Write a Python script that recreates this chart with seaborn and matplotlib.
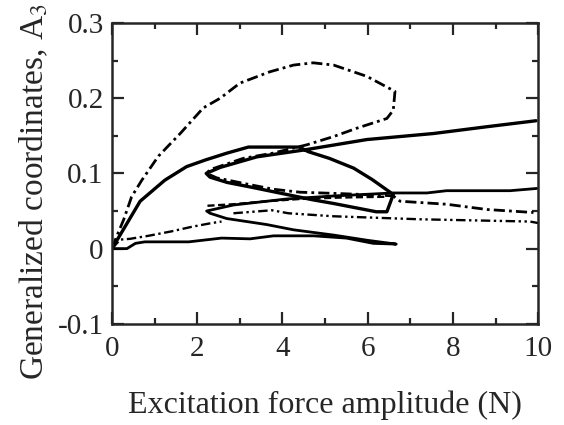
import numpy as np
import pandas as pd
import matplotlib
matplotlib.use("Agg")
import matplotlib.pyplot as plt
import seaborn as sns

# solid curve 1 (thick, upper)
x_s1 = [0, 0.66, 1.24, 1.75, 2.2, 2.7, 3.2, 3.8, 4.4, 4.6, 5.1, 5.67, 6.1, 6.6,
        6.45, 6.2, 5.2, 4.7, 4.1, 3.24, 2.7, 2.3, 2.21, 2.54, 3.4, 4.49, 5.98, 7.54, 8.79, 9.95]
y_s1 = [0, 0.063, 0.091, 0.109, 0.118, 0.127, 0.135, 0.135, 0.135, 0.129, 0.12, 0.107, 0.092, 0.072,
        0.049, 0.049, 0.06, 0.065, 0.072, 0.082, 0.088, 0.095, 0.1, 0.108, 0.122, 0.131, 0.145, 0.153, 0.162, 0.17]

# solid curve 2 (lower)
x_s2 = [0, 0.35, 0.55, 0.77, 1.8, 2.57, 3.24, 3.79, 4.73, 5.5, 6.13, 6.67,
        6.0, 5.2, 4.26, 3.63, 2.69, 2.3, 2.22, 2.85, 4.1, 5.2, 6.6, 7.39, 7.85, 9.34, 9.97]
y_s2 = [0, 0.0, 0.007, 0.009, 0.009, 0.014, 0.013, 0.017, 0.017, 0.014, 0.007, 0.006,
        0.011, 0.018, 0.025, 0.032, 0.04, 0.047, 0.05, 0.058, 0.066, 0.07, 0.074, 0.074, 0.077, 0.077, 0.08]

# dash-dot curve (big loop)
x_dd = [0, 0.1, 0.27, 0.46, 0.7, 1.09, 1.6, 2.14, 2.54, 3.0, 3.7, 4.26, 4.72, 5.2, 5.98, 6.64,
        6.6, 6.45, 5.74, 5.2, 4.57, 3.78, 3.08, 2.3, 2.22, 2.46, 3.24, 3.78, 4.41, 5.42, 6.33, 6.6,
        6.76, 7.85, 8.8, 9.89]
y_dd = [0, 0.015, 0.038, 0.069, 0.091, 0.123, 0.153, 0.187, 0.2, 0.22, 0.235, 0.244, 0.247, 0.244, 0.229, 0.209,
        0.184, 0.173, 0.16, 0.149, 0.138, 0.127, 0.12, 0.105, 0.1, 0.094, 0.085, 0.079, 0.075, 0.073, 0.071, 0.07,
        0.063, 0.059, 0.052, 0.048]

# dash-dot low branch
x_dl = [0, 0.19, 0.42, 0.85, 1.4, 1.87, 2.34, 2.57]
y_dl = [0, 0.012, 0.013, 0.017, 0.023, 0.029, 0.034, 0.036]

# dashed middle branch
x_dm = [2.24, 2.85, 3.63, 4.41, 5.4, 6.45]
y_dm = [0.057, 0.059, 0.063, 0.066, 0.068, 0.069]

# dash-dot-dot branch
x_d2 = [2.85, 3.75, 4.14, 5.2, 7.23, 9.81, 10.0]
y_d2 = [0.047, 0.051, 0.047, 0.043, 0.039, 0.036, 0.034]

sns.set_style("ticks")
plt.rcParams['font.family'] = ['Liberation Serif', 'DejaVu Serif']
plt.rcParams['mathtext.fontset'] = 'stix'

fig = plt.figure(figsize=(5.64, 4.25), dpi=100)
ax = fig.add_axes([0.1986, 0.238, 0.7556, 0.708])

dashdot = (0, (4, 1.5, 1, 1.5))
dashdot2 = (0, (4, 1.5, 1, 1.5, 1, 1.5))
curves = [
    (x_s1, y_s1, '-', 2.4),
    (x_s2, y_s2, '-', 2.0),
    (x_dd, y_dd, dashdot, 2.0),
    (x_dl, y_dl, dashdot, 1.7),
    (x_dm, y_dm, (0, (3, 1.5)), 1.7),
    (x_d2, y_d2, dashdot2, 1.7),
]
for xs, ys, ls, lw in curves:
    df = pd.DataFrame({'x': xs, 'y': ys})
    sns.lineplot(data=df, x='x', y='y', sort=False, estimator=None, ax=ax,
                 color='black', linestyle=ls, linewidth=lw)

ax.set_xlim(0, 10)
ax.set_ylim(-0.1, 0.3)
ax.set_xticks([0, 2, 4, 6, 8, 10])
ax.set_xticks([1, 3, 5, 7, 9], minor=True)
ax.set_yticks([-0.1, 0, 0.1, 0.2, 0.3])
ax.set_yticklabels(['-0.1', '0', '0.1', '0.2', '0.3'])
ax.set_yticks([-0.05, 0.05, 0.15, 0.25], minor=True)
ax.tick_params(which='both', direction='in', top=True, right=True, width=1.6, labelsize=21)
ax.tick_params(axis='x', pad=9)
ax.tick_params(axis='y', pad=6)
ax.tick_params(which='major', length=8.5)
ax.tick_params(which='minor', length=4.5)
for sp in ax.spines.values():
    sp.set_linewidth(1.8)

ax.set_xlabel('Excitation force amplitude (N)', fontsize=23, labelpad=20)
ax.set_ylabel('Generalized coordinates, A$_3$', fontsize=24)
ax.yaxis.set_label_coords(-0.146, 0.44)

fig.savefig('out.png', dpi=100)
